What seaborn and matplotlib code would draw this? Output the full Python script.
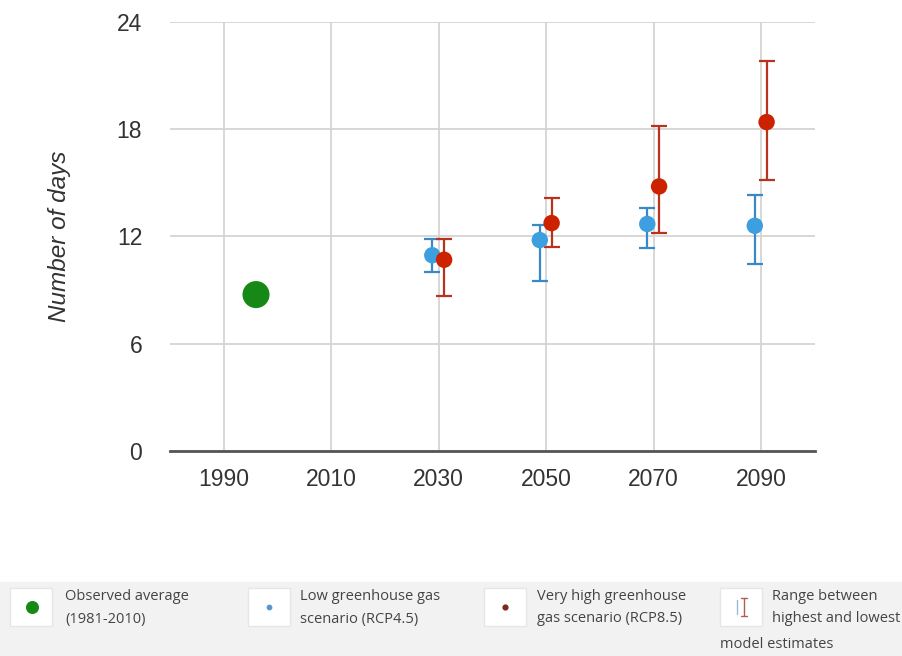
import numpy as np
import pandas as pd
import matplotlib
matplotlib.use("Agg")
import matplotlib.pyplot as plt
import seaborn as sns
from matplotlib.patches import Rectangle

# Data
decades = [2030, 2050, 2070, 2090]
low_mid = [10.95, 11.8, 12.7, 12.6]
low_lo = [10.0, 9.5, 11.35, 10.45]
low_hi = [11.85, 12.65, 13.6, 14.3]
high_mid = [10.7, 12.75, 14.8, 18.4]
high_lo = [8.65, 11.4, 12.2, 15.15]
high_hi = [11.85, 14.15, 18.2, 21.8]
obs_year = [1996]
obs_value = [8.75]
x_ticks = [1990, 2010, 2030, 2050, 2070, 2090]
y_ticks = [0, 6, 12, 18, 24]

GREEN = "#168816"
BLUE = "#3d9fe0"
BLUE_BAR = "#3a88c6"
RED = "#cc2200"
RED_BAR = "#b8321e"

sns.set_theme(style="white")
plt.rcParams['font.family'] = ['Liberation Sans', 'DejaVu Sans']

df = pd.DataFrame({
    'year': decades * 2,
    'days': low_mid + high_mid,
    'lo': low_lo + high_lo,
    'hi': low_hi + high_hi,
    'scenario': ['RCP4.5'] * 4 + ['RCP8.5'] * 4,
})
# small horizontal offset so the two scenarios sit side by side
df['xpos'] = df['year'] + np.where(df['scenario'] == 'RCP4.5', -1.2, 1.0)

fig = plt.figure(figsize=(9.02, 6.56), dpi=100)
ax = fig.add_axes([0.1885, 0.3125, 0.715, 0.654])

# error bars (range between models)
for scen, col in [('RCP4.5', BLUE_BAR), ('RCP8.5', RED_BAR)]:
    d = df[df['scenario'] == scen]
    ax.errorbar(d['xpos'], d['days'], yerr=[d['days'] - d['lo'], d['hi'] - d['days']],
                fmt='none', ecolor=col, elinewidth=1.6, capsize=6, capthick=1.6, zorder=3)

sns.scatterplot(data=df, x='xpos', y='days', hue='scenario',
                palette={'RCP4.5': BLUE, 'RCP8.5': RED}, s=140,
                edgecolor='none', legend=False, ax=ax, zorder=4)
sns.scatterplot(x=obs_year, y=obs_value, color=GREEN, s=380, edgecolor='none',
                legend=False, ax=ax, zorder=4)

ax.set_xlim(1980, 2100)
ax.set_ylim(0, 24)
ax.set_xticks(x_ticks)
ax.set_yticks(y_ticks)
ax.set_xticklabels([str(t) for t in x_ticks], fontsize=16.5, color='#333333')
ax.set_yticklabels([str(t) for t in y_ticks], fontsize=16.5, color='#333333')
ax.tick_params(axis='x', length=0, pad=12)
ax.tick_params(axis='y', length=0, pad=20)
ax.grid(True, color='#d4d4d4', linewidth=1.3)
ax.set_axisbelow(True)
for s in ['top', 'right', 'left']:
    ax.spines[s].set_visible(False)
ax.spines['bottom'].set_color('#555555')
ax.spines['bottom'].set_linewidth(2)
ax.spines['bottom'].set_zorder(5)
ax.set_xlabel('')
ax.set_ylabel('Number of days', fontsize=17.5, fontstyle='italic', color='#333333',
              labelpad=33)

# legend band at the bottom
lg = fig.add_axes([0, 0, 1, 1], zorder=-1)
lg.set_xlim(0, 902)
lg.set_ylim(656, 0)
lg.axis('off')
lg.add_patch(Rectangle((0, 582), 902, 74, color='#f2f2f2', zorder=0))
box_x = [10, 248, 484, 720]
for bx in box_x:
    lg.add_patch(Rectangle((bx, 588), 42, 38, facecolor='white', edgecolor='#e6e6e6',
                           linewidth=1, zorder=1))
lg.scatter([32], [607], s=70, color=GREEN, zorder=2)
lg.scatter([269], [607], s=10, color='#5a97c8', zorder=2)
lg.scatter([505], [607], s=12, color='#7a2a18', zorder=2)
lg.plot([737, 737], [600, 614], color='#9fb7d8', lw=1, zorder=2)
lg.plot([744, 744], [598, 616], color='#b06050', lw=1, zorder=2)
for y in [598, 616]:
    lg.plot([741, 747], [y, y], color='#b06050', lw=1, zorder=2)

tk = dict(fontsize=10.5, color='#444444', family=['Open Sans', 'DejaVu Sans'], va='center')
lg.text(65, 597, 'Observed average', **tk)
lg.text(65, 619, '(1981-2010)', **tk)
lg.text(300, 597, 'Low greenhouse gas', **tk)
lg.text(300, 619, 'scenario (RCP4.5)', **tk)
lg.text(537, 597, 'Very high greenhouse', **tk)
lg.text(537, 619, 'gas scenario (RCP8.5)', **tk)
lg.text(772, 597, 'Range between', **tk)
lg.text(772, 619, 'highest and lowest', **tk)
lg.text(720, 645, 'model estimates', **tk)

fig.savefig('out.png', dpi=100)
